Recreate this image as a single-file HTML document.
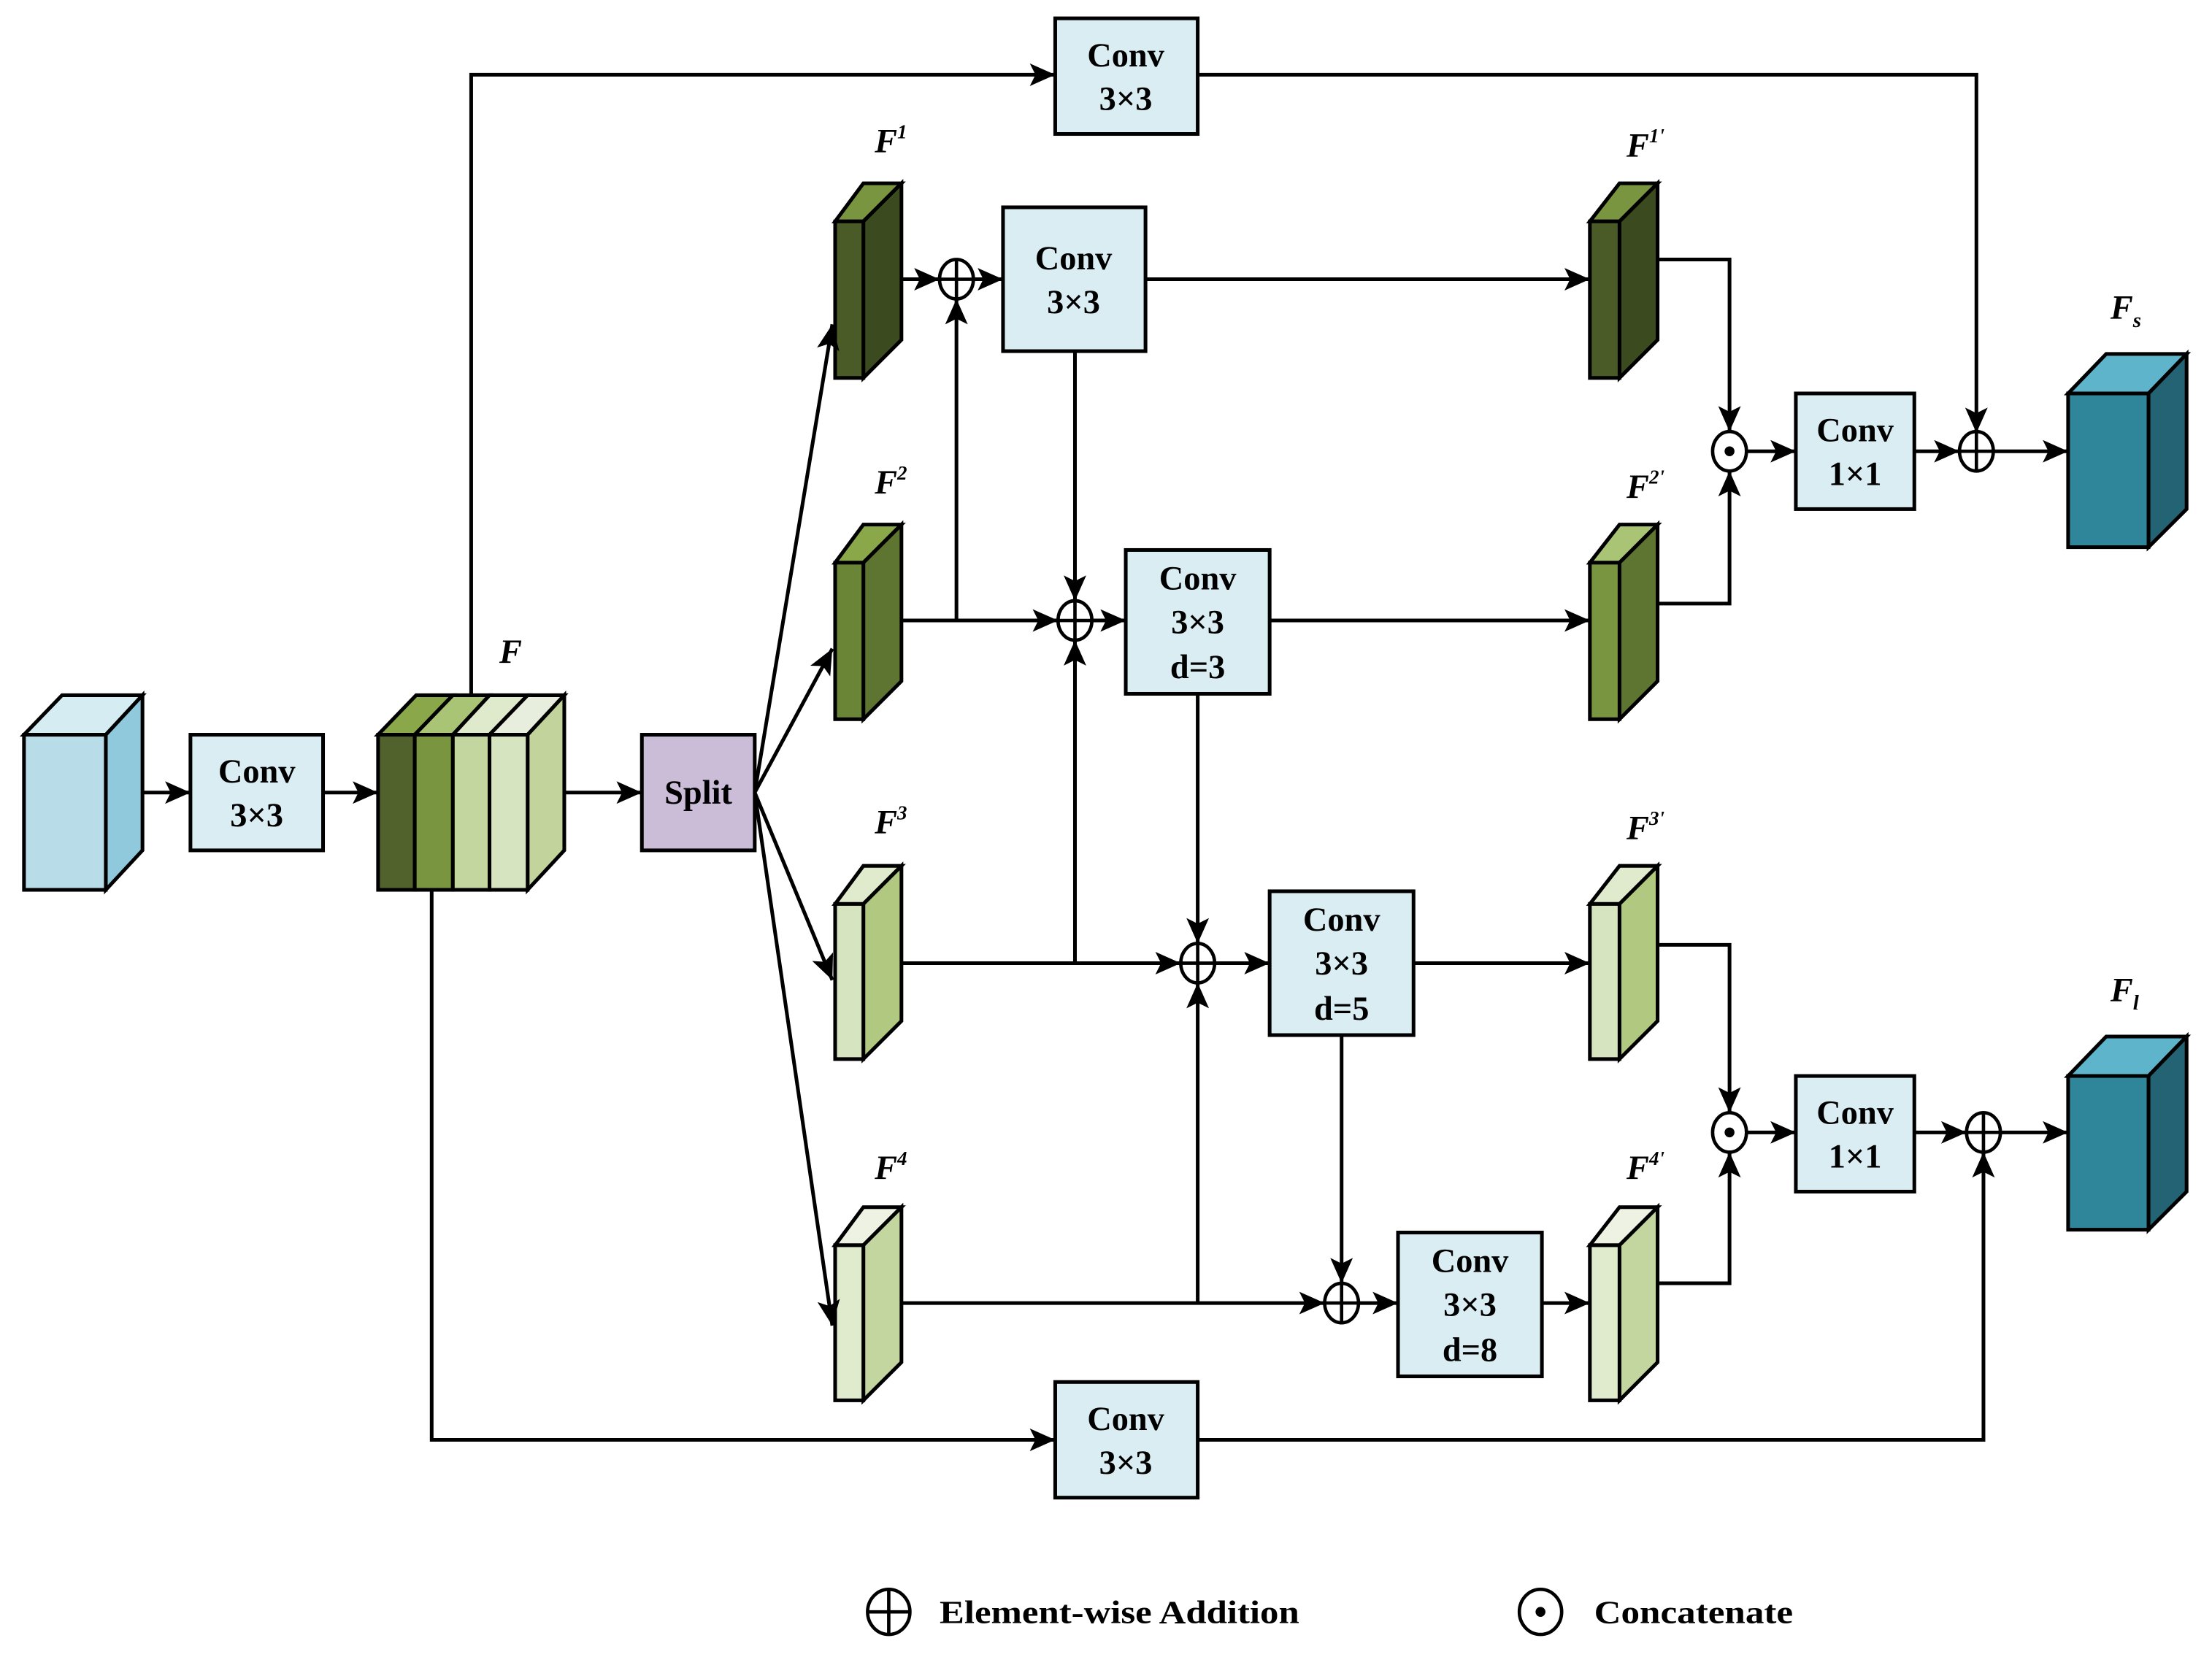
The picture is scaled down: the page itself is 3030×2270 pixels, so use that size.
<!DOCTYPE html>
<html><head><meta charset="utf-8"><style>
html,body{margin:0;padding:0;background:#fff;}
svg{display:block;}
text{font-family:"Liberation Serif","Times New Roman",serif;font-weight:bold;fill:#000;}
</style></head><body>
<svg width="3030" height="2270" viewBox="0 0 1568 1175" preserveAspectRatio="none" xmlns="http://www.w3.org/2000/svg" font-family="Liberation Serif, serif">
<defs>
<marker id="a" markerWidth="20" markerHeight="16" refX="18" refY="8" orient="auto" markerUnits="userSpaceOnUse">
<path d="M0,0 L18,8 L0,16 L4,8 Z" fill="#000"/>
</marker>
</defs>
<g stroke="#000" stroke-width="2.6" fill="none">
<polygon points="17,521 44,493 101,493 75,521" fill="#d6ecf3"/>
<polygon points="75,521 101,493 101,603 75,631" fill="#90c9dc"/>
<rect x="17" y="521" width="58" height="110" fill="#b8dde8"/>
<polygon points="268,521 295,493 321,493 294,521" fill="#8aa84a"/>
<polygon points="294,521 321,493 347,493 321,521" fill="#aac475"/>
<polygon points="321,521 347,493 374,493 347,521" fill="#dfe9cc"/>
<polygon points="347,521 374,493 400,493 374,521" fill="#e8eedd"/>
<polygon points="374,521 400,493 400,603 374,631" fill="#c2d49c"/>
<rect x="268" y="521" width="26" height="110" fill="#51622d"/>
<rect x="294" y="521" width="27" height="110" fill="#7a953f"/>
<rect x="321" y="521" width="26" height="110" fill="#c4d69f"/>
<rect x="347" y="521" width="27" height="110" fill="#d6e4bf"/>
<rect x="135" y="521" width="94" height="82" fill="#daedf3"/>
<rect x="455" y="521" width="80" height="82" fill="#cbbdd8"/>
<rect x="748" y="13" width="101" height="82" fill="#daedf3"/>
<rect x="711" y="147" width="101" height="102" fill="#daedf3"/>
<rect x="798" y="390" width="102" height="102" fill="#daedf3"/>
<rect x="900" y="632" width="102" height="102" fill="#daedf3"/>
<rect x="991" y="874" width="102" height="102" fill="#daedf3"/>
<rect x="748" y="980" width="101" height="82" fill="#daedf3"/>
<rect x="1273" y="279" width="84" height="82" fill="#daedf3"/>
<rect x="1273" y="763" width="84" height="82" fill="#daedf3"/>
<polygon points="1466,279 1493,251 1550,251 1523,279" fill="#5db4cb"/>
<polygon points="1523,279 1550,251 1550,361 1523,388" fill="#236373"/>
<rect x="1466" y="279" width="57" height="109" fill="#2f8599"/>
<polygon points="1466,763 1493,735 1550,735 1523,763" fill="#5db4cb"/>
<polygon points="1523,763 1550,735 1550,845 1523,872" fill="#236373"/>
<rect x="1466" y="763" width="57" height="109" fill="#2f8599"/>
</g>
<g stroke="#000" stroke-width="2.6" stroke-linejoin="miter">
<g><polygon points="592,157 612,130 639,130 612,157" fill="#7a953f"/><polygon points="612,157 639,130 639,241 612,268" fill="#3c4a1f"/><rect x="592" y="157" width="20" height="111" fill="#4a5b28"/></g>
<g><polygon points="592,399 612,372 639,372 612,399" fill="#8aa84a"/><polygon points="612,399 639,372 639,483 612,510" fill="#5d7530"/><rect x="592" y="399" width="20" height="111" fill="#6a8535"/></g>
<g><polygon points="592,641 612,614 639,614 612,641" fill="#e0eacc"/><polygon points="612,641 639,614 639,724 612,751" fill="#b0c880"/><rect x="592" y="641" width="20" height="110" fill="#d6e4bf"/></g>
<g><polygon points="592,883 612,856 639,856 612,883" fill="#eef2e2"/><polygon points="612,883 639,856 639,966 612,993" fill="#c4d69f"/><rect x="592" y="883" width="20" height="110" fill="#e0eacc"/></g>
<g><polygon points="1127,157 1148,130 1175,130 1148,157" fill="#7a953f"/><polygon points="1148,157 1175,130 1175,241 1148,268" fill="#3c4a1f"/><rect x="1127" y="157" width="21" height="111" fill="#4a5b28"/></g>
<g><polygon points="1127,399 1148,372 1175,372 1148,399" fill="#aac475"/><polygon points="1148,399 1175,372 1175,483 1148,510" fill="#5d7530"/><rect x="1127" y="399" width="21" height="111" fill="#7a953f"/></g>
<g><polygon points="1127,641 1148,614 1175,614 1148,641" fill="#e0eacc"/><polygon points="1148,641 1175,614 1175,724 1148,751" fill="#b0c880"/><rect x="1127" y="641" width="21" height="110" fill="#d6e4bf"/></g>
<g><polygon points="1127,883 1148,856 1175,856 1148,883" fill="#eef2e2"/><polygon points="1148,883 1175,856 1175,966 1148,993" fill="#c4d69f"/><rect x="1127" y="883" width="21" height="110" fill="#e0eacc"/></g>
</g>
<g stroke="#000" stroke-width="2.6" fill="none">
<line x1="101" y1="562" x2="135" y2="562" marker-end="url(#a)"/>
<line x1="229" y1="562" x2="268" y2="562" marker-end="url(#a)"/>
<line x1="400" y1="562" x2="455" y2="562" marker-end="url(#a)"/>
<line x1="535" y1="562" x2="590" y2="230" marker-end="url(#a)"/>
<line x1="535" y1="562" x2="590" y2="460" marker-end="url(#a)"/>
<line x1="535" y1="562" x2="590" y2="695" marker-end="url(#a)"/>
<line x1="535" y1="562" x2="590" y2="940" marker-end="url(#a)"/>
<polyline points="334,493 334,53 748,53" marker-end="url(#a)"/>
<polyline points="849,53 1401,53 1401,307" marker-end="url(#a)"/>
<polyline points="306,631 306,1021 748,1021" marker-end="url(#a)"/>
<polyline points="849,1021 1406,1021 1406,817" marker-end="url(#a)"/>
<line x1="639" y1="198" x2="666" y2="198" marker-end="url(#a)"/>
<line x1="690" y1="198" x2="711" y2="198" marker-end="url(#a)"/>
<line x1="812" y1="198" x2="1127" y2="198" marker-end="url(#a)"/>
<polyline points="639,440 678,440 678,212" marker-end="url(#a)"/>
<line x1="678" y1="440" x2="750" y2="440" marker-end="url(#a)"/>
<line x1="762" y1="249" x2="762" y2="426" marker-end="url(#a)"/>
<line x1="774" y1="440" x2="798" y2="440" marker-end="url(#a)"/>
<line x1="900" y1="440" x2="1127" y2="440" marker-end="url(#a)"/>
<line x1="639" y1="683" x2="837" y2="683" marker-end="url(#a)"/>
<line x1="762" y1="683" x2="762" y2="454" marker-end="url(#a)"/>
<line x1="849" y1="492" x2="849" y2="669" marker-end="url(#a)"/>
<line x1="861" y1="683" x2="900" y2="683" marker-end="url(#a)"/>
<line x1="1002" y1="683" x2="1127" y2="683" marker-end="url(#a)"/>
<line x1="639" y1="924" x2="939" y2="924" marker-end="url(#a)"/>
<line x1="849" y1="924" x2="849" y2="697" marker-end="url(#a)"/>
<line x1="951" y1="734" x2="951" y2="910" marker-end="url(#a)"/>
<line x1="963" y1="924" x2="991" y2="924" marker-end="url(#a)"/>
<line x1="1093" y1="924" x2="1127" y2="924" marker-end="url(#a)"/>
<polyline points="1175,184 1226,184 1226,306" marker-end="url(#a)"/>
<polyline points="1175,428 1226,428 1226,334" marker-end="url(#a)"/>
<line x1="1238" y1="320" x2="1273" y2="320" marker-end="url(#a)"/>
<line x1="1357" y1="320" x2="1389" y2="320" marker-end="url(#a)"/>
<line x1="1413" y1="320" x2="1466" y2="320" marker-end="url(#a)"/>
<polyline points="1175,670 1226,670 1226,789" marker-end="url(#a)"/>
<polyline points="1175,910 1226,910 1226,817" marker-end="url(#a)"/>
<line x1="1238" y1="803" x2="1273" y2="803" marker-end="url(#a)"/>
<line x1="1357" y1="803" x2="1394" y2="803" marker-end="url(#a)"/>
<line x1="1418" y1="803" x2="1466" y2="803" marker-end="url(#a)"/>
</g>
<g stroke="#000" stroke-width="2.4" fill="#fff">
<g><ellipse cx="678" cy="198" rx="12" ry="14"/><path d="M666,198H690M678,184V212"/></g>
<g><ellipse cx="762" cy="440" rx="12" ry="14"/><path d="M750,440H774M762,426V454"/></g>
<g><ellipse cx="849" cy="683" rx="12" ry="14"/><path d="M837,683H861M849,669V697"/></g>
<g><ellipse cx="951" cy="924" rx="12" ry="14"/><path d="M939,924H963M951,910V938"/></g>
<g><ellipse cx="1401" cy="320" rx="12" ry="14"/><path d="M1389,320H1413M1401,306V334"/></g>
<g><ellipse cx="1406" cy="803" rx="12" ry="14"/><path d="M1394,803H1418M1406,789V817"/></g>
<ellipse cx="1226" cy="320" rx="12" ry="14"/>
<ellipse cx="1226" cy="803" rx="12" ry="14"/>
<g><ellipse cx="630" cy="1143" rx="15" ry="16"/><path d="M615,1143H645M630,1127V1159"/></g>
<ellipse cx="1092" cy="1143" rx="15" ry="16"/>
</g>
<g fill="#000"><circle cx="1226" cy="320" r="3.5"/><circle cx="1226" cy="803" r="3.5"/><circle cx="1092" cy="1143" r="3.5"/></g>
<g font-size="24" text-anchor="middle">
<text x="182" y="555">Conv</text><text x="182" y="586">3×3</text>
<text x="495" y="570">Split</text>
<text x="798" y="47">Conv</text><text x="798" y="78">3×3</text>
<text x="761" y="191">Conv</text><text x="761" y="222">3×3</text>
<text x="849" y="418">Conv</text><text x="849" y="449">3×3</text><text x="849" y="481">d=3</text>
<text x="951" y="660">Conv</text><text x="951" y="691">3×3</text><text x="951" y="723">d=5</text>
<text x="1042" y="902">Conv</text><text x="1042" y="933">3×3</text><text x="1042" y="965">d=8</text>
<text x="798" y="1014">Conv</text><text x="798" y="1045">3×3</text>
<text x="1315" y="313">Conv</text><text x="1315" y="344">1×1</text>
<text x="1315" y="797">Conv</text><text x="1315" y="828">1×1</text>
</g>
<g font-size="24" font-style="italic">
<text x="354" y="470">F</text>
<text x="620" y="108">F<tspan font-size="14" dy="-10">1</tspan></text>
<text x="620" y="350">F<tspan font-size="14" dy="-10">2</tspan></text>
<text x="620" y="591">F<tspan font-size="14" dy="-10">3</tspan></text>
<text x="620" y="836">F<tspan font-size="14" dy="-10">4</tspan></text>
<text x="1153" y="111">F<tspan font-size="14" dy="-10">1'</tspan></text>
<text x="1153" y="353">F<tspan font-size="14" dy="-10">2'</tspan></text>
<text x="1153" y="595">F<tspan font-size="14" dy="-10">3'</tspan></text>
<text x="1153" y="836">F<tspan font-size="14" dy="-10">4'</tspan></text>
<text x="1496" y="226">F<tspan font-size="15" dy="6">s</tspan></text>
<text x="1496" y="710">F<tspan font-size="15" dy="6">l</tspan></text>
</g>
<g font-size="23">
<text x="666" y="1151" textLength="255" lengthAdjust="spacingAndGlyphs">Element-wise Addition</text>
<text x="1130" y="1151" textLength="141" lengthAdjust="spacingAndGlyphs">Concatenate</text>
</g>
</svg>
</body></html>
